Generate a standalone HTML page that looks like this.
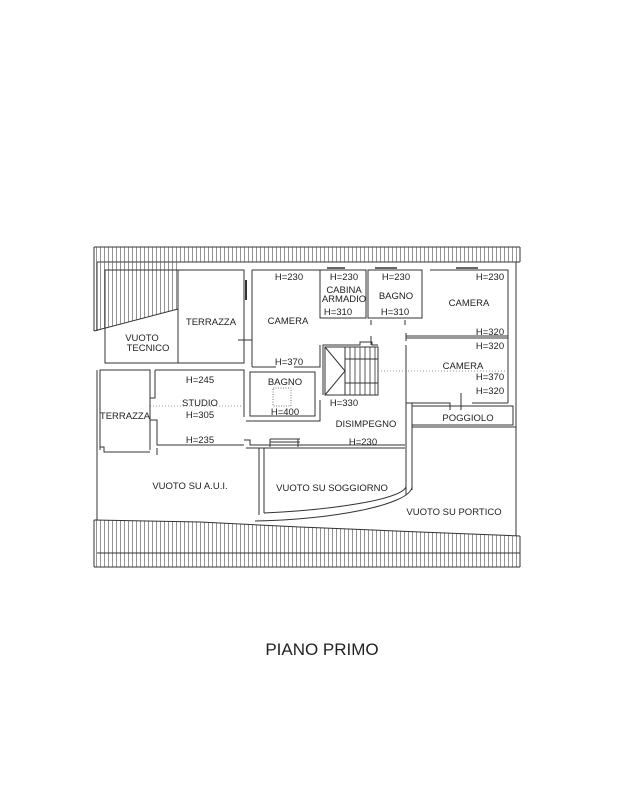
<!DOCTYPE html>
<html><head><meta charset="utf-8"><style>
html,body{margin:0;padding:0;background:#fff;width:644px;height:805px;overflow:hidden}
svg{display:block}
text{font-family:"Liberation Sans",sans-serif;font-size:9.5px;fill:#222}
</style></head><body>
<svg width="644" height="805" viewBox="0 0 644 805" xmlns="http://www.w3.org/2000/svg">
<defs>
<pattern id="vh" width="4" height="10" patternUnits="userSpaceOnUse">
<line x1="0.5" y1="0" x2="0.5" y2="10" stroke="#666" stroke-width="0.7"/>
</pattern>
<clipPath id="lw"><polygon points="94,262 178,262 178,309 94,331"/></clipPath>
<clipPath id="bw"><polygon points="94,520 200,522 300,527 420,532 520,536 520,567 94,567"/></clipPath>
</defs>
<g stroke="#333" stroke-width="1" fill="none">
<rect x="94" y="247" width="426" height="15" fill="url(#vh)" stroke="none"/>
<line x1="94" y1="247" x2="520" y2="247"/>
<line x1="97" y1="262" x2="520" y2="262"/>
<line x1="94" y1="247" x2="94" y2="331"/>
<line x1="97" y1="262" x2="97" y2="331"/>
<rect x="94" y="262" width="84" height="70" fill="url(#vh)" stroke="none" clip-path="url(#lw)"/>
<line x1="94" y1="331" x2="178" y2="309"/>
<line x1="520" y1="247" x2="520" y2="262"/>
<line x1="516" y1="262" x2="516" y2="536"/>
<line x1="97" y1="370" x2="97" y2="520"/>
<rect x="94" y="518" width="426" height="50" fill="url(#vh)" stroke="none" clip-path="url(#bw)"/>
<polyline points="94,520 200,522 300,527 420,532 520,536"/>
<line x1="94" y1="520" x2="94" y2="567"/>
<line x1="97" y1="553" x2="520" y2="553"/>
<line x1="94" y1="567" x2="520" y2="567"/>
<line x1="520" y1="536" x2="520" y2="567"/>

<rect x="105" y="270" width="73" height="93"/>
<rect x="178" y="270" width="66" height="93"/>
<line x1="246" y1="280" x2="246" y2="300" stroke-width="2"/>
<line x1="238" y1="340" x2="252" y2="340"/>
<polyline points="252,270 320,270"/>
<line x1="252" y1="270" x2="252" y2="367"/>
<polyline points="252,367 276,367"/>
<polyline points="294,367 320,367 320,345"/>
<rect x="320" y="270" width="46" height="48"/>
<line x1="327" y1="268" x2="345" y2="268" stroke-width="1.5"/>
<rect x="368" y="270" width="54" height="48"/>
<line x1="375" y1="268" x2="397" y2="268" stroke-width="1.5"/>
<line x1="371" y1="320" x2="371" y2="325"/>
<line x1="405" y1="320" x2="405" y2="325"/>
<polyline points="430,270 508,270 508,403"/>
<line x1="456" y1="268" x2="478" y2="268" stroke-width="1.5"/>
<line x1="406" y1="336" x2="508" y2="336"/>
<line x1="406" y1="338" x2="508" y2="338"/>
<line x1="406" y1="333" x2="406" y2="341"/>
<line x1="406" y1="345" x2="406" y2="495"/>
<line x1="412" y1="403" x2="412" y2="490"/>
<polyline points="406,403 450,403 450,410"/>
<polyline points="472,403 508,403"/>
<line x1="461" y1="393" x2="461" y2="410"/>
<rect x="412" y="406" width="101" height="19"/>
<line x1="412" y1="427" x2="516" y2="427"/>
<polyline points="323,395 323,345 360,345 360,342 372,342 372,345 378,345"/>
<line x1="371" y1="336" x2="371" y2="345"/>
<rect x="325" y="347" width="53" height="48"/>
<line x1="345" y1="359" x2="378" y2="359"/>
<line x1="345" y1="383" x2="378" y2="383"/>
<line x1="345" y1="347" x2="345" y2="395"/>
<polyline points="325,347 345,371 325,395"/>
<g stroke-width="0.8">
<line x1="350" y1="347" x2="350" y2="395"/><line x1="355" y1="347" x2="355" y2="395"/>
<line x1="360" y1="347" x2="360" y2="395"/><line x1="365" y1="347" x2="365" y2="395"/>
<line x1="370" y1="347" x2="370" y2="395"/><line x1="375" y1="347" x2="375" y2="395"/>
</g>
<line x1="378" y1="371" x2="510" y2="371" stroke-dasharray="1,2" stroke="#999"/>
<polyline points="155,370 244,370 244,417"/>
<polyline points="155,370 155,398 150,398"/>
<polyline points="150,420 157,420 157,445 244,445"/>
<line x1="150" y1="406" x2="244" y2="406" stroke-dasharray="1,2" stroke="#999"/>
<polyline points="100,450 100,370 150,370 150,450"/>
<polyline points="100,447 104,447 104,452 150,452"/>
<rect x="250" y="372" width="65" height="44"/>
<rect x="273" y="388" width="18" height="18" stroke-dasharray="1,1.5" stroke="#777"/>
<polyline points="246,421 320,421 320,400"/>
<polyline points="244,440 250,440 250,445 262,445"/>
<line x1="270" y1="439" x2="300" y2="439"/>
<line x1="270" y1="442" x2="300" y2="442"/>
<polyline points="262,445 405,445"/>
<line x1="270" y1="439" x2="270" y2="447"/>
<line x1="298" y1="439" x2="298" y2="447"/>
<line x1="157" y1="448" x2="157" y2="455"/>
<line x1="246" y1="448" x2="405" y2="448"/>
<line x1="259" y1="448" x2="259" y2="515"/>
<line x1="264" y1="448" x2="264" y2="513"/>
<path d="M264,513 C330,510 400,500 406,487"/>
<path d="M255,521 C330,520 410,505 412,487"/>
</g>
<text x="142" y="341" text-anchor="middle">VUOTO</text>
<text x="148" y="351" text-anchor="middle">TECNICO</text>
<text x="211" y="325" text-anchor="middle">TERRAZZA</text>
<text x="289" y="280" text-anchor="middle">H=230</text>
<text x="288" y="324" text-anchor="middle">CAMERA</text>
<text x="289" y="365" text-anchor="middle">H=370</text>
<text x="344" y="280" text-anchor="middle">H=230</text>
<text x="344" y="293" text-anchor="middle">CABINA</text>
<text x="344" y="302" text-anchor="middle">ARMADIO</text>
<text x="338" y="315" text-anchor="middle">H=310</text>
<text x="396" y="280" text-anchor="middle">H=230</text>
<text x="396" y="299" text-anchor="middle">BAGNO</text>
<text x="395" y="315" text-anchor="middle">H=310</text>
<text x="490" y="280" text-anchor="middle">H=230</text>
<text x="469" y="306" text-anchor="middle">CAMERA</text>
<text x="490" y="335" text-anchor="middle">H=320</text>
<text x="490" y="349" text-anchor="middle">H=320</text>
<text x="463" y="369" text-anchor="middle">CAMERA</text>
<text x="490" y="380" text-anchor="middle">H=370</text>
<text x="490" y="394" text-anchor="middle">H=320</text>
<text x="468" y="421" text-anchor="middle">POGGIOLO</text>
<text x="200" y="383" text-anchor="middle">H=245</text>
<text x="200" y="406" text-anchor="middle">STUDIO</text>
<text x="200" y="418" text-anchor="middle">H=305</text>
<text x="200" y="443" text-anchor="middle">H=235</text>
<text x="125" y="419" text-anchor="middle">TERRAZZA</text>
<text x="285" y="385" text-anchor="middle">BAGNO</text>
<text x="285" y="415" text-anchor="middle">H=400</text>
<text x="344" y="406" text-anchor="middle">H=330</text>
<text x="366" y="427" text-anchor="middle">DISIMPEGNO</text>
<text x="363" y="445" text-anchor="middle">H=230</text>
<text x="190" y="489" text-anchor="middle">VUOTO SU A.U.I.</text>
<text x="332" y="491" text-anchor="middle">VUOTO SU SOGGIORNO</text>
<text x="454" y="515" text-anchor="middle">VUOTO SU PORTICO</text>
<text x="322" y="655" text-anchor="middle" style="font-size:17px">PIANO PRIMO</text>
</svg>
</body></html>
